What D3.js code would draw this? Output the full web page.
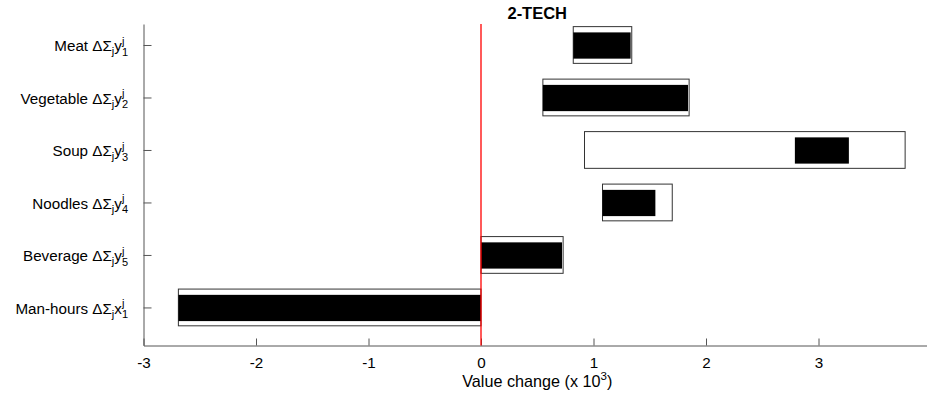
<!DOCTYPE html>
<html>
<head>
<meta charset="utf-8">
<script src="https://cdn.jsdelivr.net/npm/d3@7"></script>
<style>
  body { margin: 0; background: #fff; }
  text { font-family: 'Liberation Sans', Arial, sans-serif; }
</style>
</head>
<body>
<svg id="chart"></svg>
<script>
// data
let categories = ['Meat', 'Vegetable', 'Soup', 'Noodles', 'Beverage', 'Man-hours']
let symbols = ['y', 'y', 'y', 'y', 'y', 'x']
let subs = ['1', '2', '3', '4', '5', '1']
let rangeLo = [0.82, 0.55, 0.92, 1.08, 0, -2.69]
let rangeHi = [1.34, 1.85, 3.77, 1.70, 0.73, 0]
let valueLo = [0.82, 0.55, 2.79, 1.08, 0, -2.69]
let valueHi = [1.33, 1.84, 3.27, 1.55, 0.72, 0]
let xTicks = [-3, -2, -1, 0, 1, 2, 3]

let W = 927, H = 393
let fs = 15.2
let svg = d3.select('#chart').attr('width', W).attr('height', H)

let x = d3.scaleLinear().domain([-3, 4]).range([143.5, 931])
let y = d3.scaleLinear().domain([-0.4, 5.725]).range([24, 345.5])

//outer (range) boxes
svg.append('g').selectAll('rect')
  .data(categories)
  .enter()
  .append('rect')
  .attr('x', (d, i) => x(rangeLo[i]))
  .attr('width', (d, i) => x(rangeHi[i]) - x(rangeLo[i]))
  .attr('y', (d, i) => y(i - 0.35))
  .attr('height', y(0.35) - y(-0.35))
  .attr('fill', '#fff')
  .attr('stroke', '#333')
  .attr('stroke-width', 1)

//inner black bars
svg.append('g').selectAll('rect')
  .data(categories)
  .enter()
  .append('rect')
  .attr('x', (d, i) => x(valueLo[i]))
  .attr('width', (d, i) => x(valueHi[i]) - x(valueLo[i]))
  .attr('y', (d, i) => y(i - 0.24))
  .attr('height', y(0.26) - y(-0.24))
  .attr('fill', '#000')

// axes
let xAxis = d3.axisBottom(x).tickValues(xTicks).tickFormat(d => String(d))
  .tickSizeInner(-7).tickSizeOuter(0).tickPadding(12)
let gx = svg.append('g').attr('transform', `translate(0,${y.range()[1]})`).call(xAxis)
gx.selectAll('path, line').attr('stroke', '#555')
gx.selectAll('text').attr('font-size', fs).attr('fill', '#000')
  .attr('font-family', "'Liberation Sans', Arial, sans-serif")

let yAxis = d3.axisLeft(y).tickValues(d3.range(categories.length)).tickSizeInner(-8).tickSizeOuter(0).tickFormat('')
let gy = svg.append('g').attr('transform', `translate(${x.range()[0]},0)`).call(yAxis)
gy.selectAll('path, line').attr('stroke', '#555')

// category labels with math
categories.forEach((c, i) => {
  let t = svg.append('text').attr('y', y(i) + 6.5).attr('font-size', fs).attr('fill', '#000')
  t.append('tspan').text(c + ' \u0394\u03A3')
  t.append('tspan').attr('font-size', 11).attr('dy', 4).text('j')
  t.append('tspan').attr('dy', -4).text(symbols[i])
  let sup = t.append('tspan').attr('font-size', 11).attr('dy', -6.5).text('j')
  let jw = sup.node().getComputedTextLength()
  t.append('tspan').attr('font-size', 11).attr('dx', -jw).attr('dy', 11).text(subs[i])
  let bw = t.node().getBBox().width
  t.attr('x', 128 - bw)
})

// zero line
svg.append('line')
  .attr('x1', x(0)).attr('x2', x(0))
  .attr('y1', y.range()[0]).attr('y2', y.range()[1])
  .attr('stroke', '#f00').attr('stroke-width', 1.3)

// title
svg.append('text').attr('x', (x.range()[0] + x.range()[1]) / 2).attr('y', 18.5)
  .attr('text-anchor', 'middle').attr('font-size', 16.5).attr('font-weight', 'bold')
  .text('2-TECH')

// x label
let xl = svg.append('text').attr('x', (x.range()[0] + x.range()[1]) / 2).attr('y', 387)
  .attr('text-anchor', 'middle').attr('font-size', 16.2)
xl.append('tspan').text('Value change (x 10')
xl.append('tspan').attr('font-size', 11.5).attr('dy', -7).text('3')
xl.append('tspan').attr('dy', 7).text(')')
</script>
</body>
</html>
